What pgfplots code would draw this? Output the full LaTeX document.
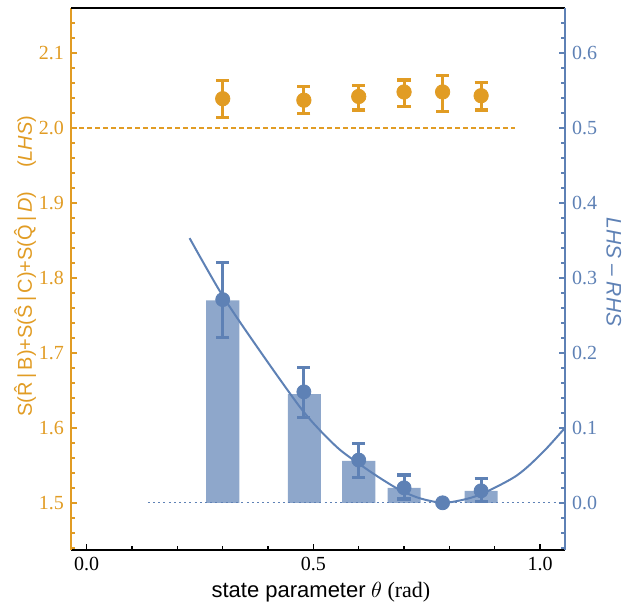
\documentclass[border=0pt]{standalone}
\usepackage{fontspec}
\setmainfont{Liberation Serif}
\newfontfamily\sansf{Liberation Sans}
\usepackage{pgfplots}
\pgfplotsset{compat=1.18}
\usetikzlibrary{calc}

\definecolor{lhsorange}{HTML}{E19C24}
\definecolor{rhsblue}{HTML}{5E81B5}
\definecolor{barblue}{HTML}{8EA7CB}

\pgfplotsset{
  common/.style={
    scale only axis, width=247pt, height=271pt,
    xmin=-0.0346, xmax=1.055,
    tick align=inside, major tick length=3pt, minor tick length=2pt,
    /pgf/number format/assume math mode=true,
    tick label style={font=\fontsize{10}{12}\selectfont},
    x axis line style={black, line width=0.8pt},
  },
}

\begin{document}
\begin{tikzpicture}
% left axis: LHS
\begin{axis}[common, name=ax,
  axis x line*=bottom, axis y line*=left,
  ymin=1.437, ymax=2.16,
  xtick={0,0.5,1},
  minor xtick={0.1,0.2,0.3,0.4,0.6,0.7,0.8,0.9},
  ytick={1.5,1.6,1.7,1.8,1.9,2.0,2.1},
  minor ytick={1.44,1.46,1.48,1.52,1.54,1.56,1.58,1.62,1.64,1.66,1.68,1.72,1.74,1.76,1.78,1.82,1.84,1.86,1.88,1.92,1.94,1.96,1.98,2.02,2.04,2.06,2.08,2.12,2.14,2.16},
  y axis line style={lhsorange, line width=1.2pt},
  x tick style={black, line width=0.6pt},
  y tick style={lhsorange, line width=1pt},
  yticklabel style={lhsorange, /pgf/number format/.cd, fixed, fixed zerofill, precision=1},
  xticklabel style={/pgf/number format/.cd, fixed, fixed zerofill, precision=1},
  xlabel={{\sansf state parameter} $\theta$ (rad)},
  xlabel style={font=\fontsize{11}{13}\selectfont, at={(axis description cs:0.506,-0.0775)}, anchor=center},
  ylabel={\sansf S(\^{R}\,|\,B)+S(\^{S}\,|\,C)+S(\^{Q}\,|\,\textit{D})\hspace{1.2em}(\textit{LHS})},
  ylabel style={lhsorange, at={(axis description cs:-0.093,0.524)}, anchor=center, rotate=0},
]
\addplot[lhsorange, line width=0.8pt, dash pattern=on 2.5pt off 1.5pt] coordinates {(-0.0346,2) (0.945,2)};
\addplot[only marks, mark=*, mark size=3.6pt, lhsorange,
  error bars/.cd, y dir=both, y explicit,
  error bar style={line width=1.5pt},
  error mark options={lhsorange, rotate=90, mark size=3.3pt, line width=1.6pt}]
  coordinates {
  (0.30,2.039)  += (0,0.024) -= (0,0.025)
  (0.479,2.037) += (0,0.018) -= (0,0.018)
  (0.60,2.042)  += (0,0.015) -= (0,0.018)
  (0.70,2.048)  += (0,0.016) -= (0,0.019)
  (0.785,2.048) += (0,0.022) -= (0,0.026)
  (0.87,2.043)  += (0,0.018) -= (0,0.019)
};
\end{axis}

% right axis: LHS - RHS
\begin{axis}[common,
  axis x line*=top, axis y line*=right,
  xtick=\empty,
  ymin=-0.063, ymax=0.66,
  ytick={0,0.1,0.2,0.3,0.4,0.5,0.6},
  minor ytick={-0.06,-0.04,-0.02,0.02,0.04,0.06,0.08,0.12,0.14,0.16,0.18,0.22,0.24,0.26,0.28,0.32,0.34,0.36,0.38,0.42,0.44,0.46,0.48,0.52,0.54,0.56,0.58,0.62,0.64,0.66},
  y axis line style={rhsblue, line width=1.2pt},
  y tick style={rhsblue, line width=1pt},
  yticklabel style={rhsblue, /pgf/number format/.cd, fixed, fixed zerofill, precision=1},
  ylabel={\sansf\itshape LHS \textendash{} RHS},
  ylabel style={rhsblue, font=\fontsize{10.5}{12}\selectfont, at={(axis description cs:1.099,0.513)}, anchor=center, rotate=180},
]
\addplot[ybar, bar width=0.073, fill=barblue, draw=none] coordinates {
  (0.30,0.27) (0.48,0.145) (0.60,0.056) (0.70,0.02) (0.87,0.016)
};
\addplot[rhsblue, line width=0.7pt, dash pattern=on 1pt off 1.6pt] coordinates {(0.135,0) (1.055,0)};
\addplot[rhsblue, line width=1pt, smooth] coordinates {
  (0.227,0.353) (0.301,0.275) (0.385,0.200) (0.470,0.128) (0.514,0.097)
  (0.558,0.071) (0.603,0.051) (0.647,0.033) (0.691,0.017) (0.735,0.006)
  (0.785,0.000) (0.830,0.004) (0.868,0.011) (0.919,0.026) (0.950,0.037)
  (0.978,0.051) (1.015,0.073) (1.055,0.100)
};
\addplot[only marks, mark=*, mark size=3.5pt, rhsblue,
  error bars/.cd, y dir=both, y explicit,
  error bar style={line width=1.5pt},
  error mark options={rhsblue, rotate=90, mark size=3.3pt, line width=1.6pt}]
  coordinates {
  (0.30,0.271)  += (0,0.050) -= (0,0.050)
  (0.479,0.148) += (0,0.032) -= (0,0.034)
  (0.60,0.057)  += (0,0.022) -= (0,0.023)
  (0.70,0.020)  += (0,0.017) -= (0,0.015)
  (0.87,0.016)  += (0,0.016) -= (0,0.014)
};
\addplot[only marks, mark=*, mark size=3.5pt, rhsblue] coordinates {(0.785,0)};
\end{axis}

\pgfresetboundingbox
\path ($(ax.south west)+(-35.5pt,-29pt)$) rectangle ($(ax.north east)+(29.5pt,4pt)$);
\end{tikzpicture}
\end{document}
